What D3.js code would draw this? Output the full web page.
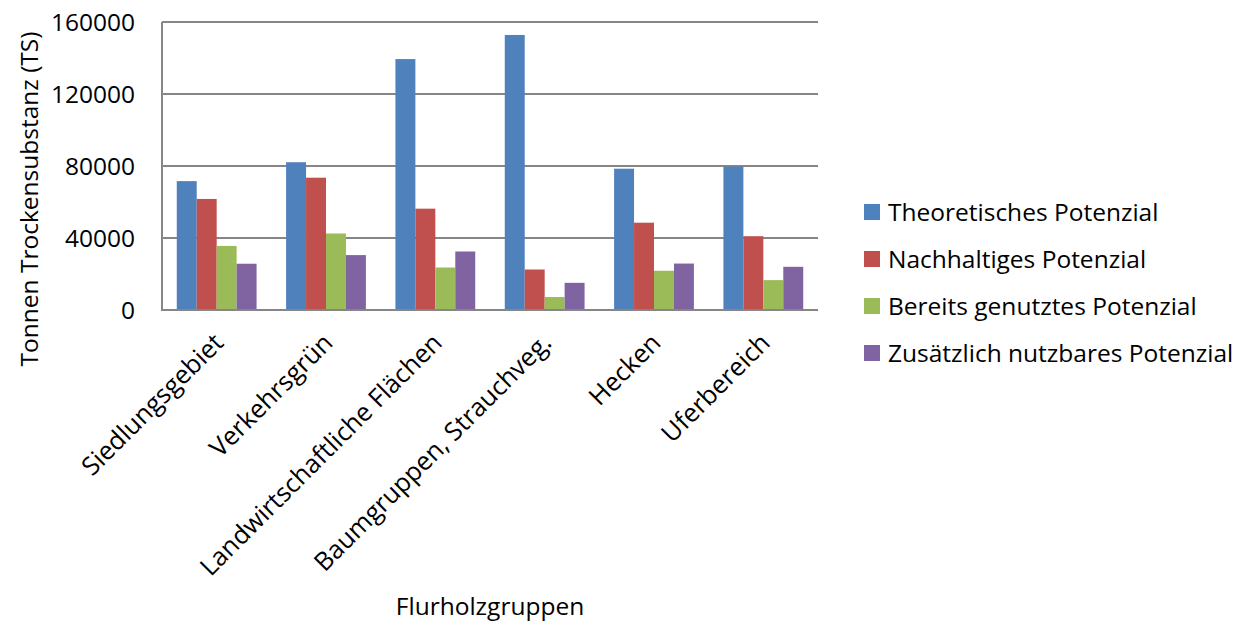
<!DOCTYPE html>
<html>
  <head>
    <meta charset="utf-8" />
    <script src="https://d3js.org/d3.v7.min.js"></script>
    <style>
        body {margin: 0; background: #fff;}
        text {font-family: "Open Sans", sans-serif; fill: #000;}
    </style>
  </head>
  <body>
    <svg id="viz"></svg>
    <script>
        var width = 1245
        var height = 623

        // categories on the x axis
        var groups = ["Siedlungsgebiet", "Verkehrsgrün", "Landwirtschaftliche Flächen",
                      "Baumgruppen, Strauchveg.", "Hecken", "Uferbereich"]
        // series names, in legend order
        var series = ["Theoretisches Potenzial", "Nachhaltiges Potenzial",
                      "Bereits genutztes Potenzial", "Zusätzlich nutzbares Potenzial"]
        var colors = ["#4F81BD", "#C0504D", "#9BBB59", "#8064A2"]

        // values per series, one per group (tonnes dry matter)
        var theoretisch = [71600, 82100, 139400, 152800, 78500, 79700]
        var nachhaltig  = [61700, 73500, 56300, 22500, 48500, 41000]
        var genutzt     = [35600, 42500, 23600, 7200, 21800, 16600]
        var zusaetzlich = [25700, 30500, 32500, 15100, 25800, 24000]
        var yTicks = [0, 40000, 80000, 120000, 160000]

        var values = [theoretisch, nachhaltig, genutzt, zusaetzlich]

        var svg = d3.select("#viz")
            .attr("width", width)
            .attr("height", height)

        // plot area edges
        var plotL = 162, plotR = 818, plotT = 22, plotB = 310

        var x0 = d3.scaleBand()
            .domain(groups)
            .range([plotL, plotR])
            .paddingInner(0.27)
            .paddingOuter(0.135)

        var x1 = d3.scaleBand()
            .domain(d3.range(series.length))
            .range([0, x0.bandwidth()])

        var y = d3.scaleLinear()
            .domain([0, 160000])
            .range([plotB, plotT])

        // gridlines
        svg.append("g").selectAll("line")
            .data(yTicks)
            .enter().append("line")
            .attr("x1", plotL)
            .attr("x2", plotR)
            .attr("y1", function(d) { return y(d) })
            .attr("y2", function(d) { return y(d) })
            .attr("stroke", "#868686")
            .attr("stroke-width", 2)

        // y axis line
        svg.append("line")
            .attr("x1", plotL).attr("x2", plotL)
            .attr("y1", plotT).attr("y2", plotB)
            .attr("stroke", "#868686")
            .attr("stroke-width", 2)

        // bars
        var barGroups = svg.append("g").selectAll("g")
            .data(groups)
            .enter().append("g")
            .attr("transform", function(d) { return "translate(" + x0(d) + ",0)" })

        barGroups.selectAll("rect")
            .data(function(d, i) {
                return values.map(function(s, k) { return {k: k, v: s[i]} })
            })
            .enter().append("rect")
            .attr("x", function(d) { return x1(d.k) })
            .attr("width", x1.bandwidth())
            .attr("y", function(d) { return y(d.v) })
            .attr("height", function(d) { return y(0) - y(d.v) })
            .attr("fill", function(d) { return colors[d.k] })

        // bottom axis line drawn over bars
        svg.append("line")
            .attr("x1", plotL - 1).attr("x2", plotR)
            .attr("y1", plotB).attr("y2", plotB)
            .attr("stroke", "#868686")
            .attr("stroke-width", 2)

        // y tick labels
        svg.append("g").selectAll("text")
            .data(yTicks)
            .enter().append("text")
            .attr("x", 135)
            .attr("y", function(d) { return y(d) })
            .attr("dy", "0.35em")
            .attr("text-anchor", "end")
            .style("font-size", "24.5px")
            .text(function(d) { return d })

        // x tick labels, rotated
        svg.append("g").selectAll("text")
            .data(groups)
            .enter().append("text")
            .attr("transform", function(d) {
                return "translate(" + (x0(d) + x0.bandwidth() / 2 + 2) + "," + 338 + ") rotate(-45)"
            })
            .attr("text-anchor", "end")
            .attr("dy", "0.35em")
            .style("font-size", "25.5px")
            .text(function(d) { return d })

        // axis titles
        svg.append("text")
            .attr("transform", "translate(29,199) rotate(-90)")
            .attr("text-anchor", "middle")
            .attr("dy", "0.35em")
            .style("font-size", "24.5px")
            .text("Tonnen Trockensubstanz (TS)")

        svg.append("text")
            .attr("x", 490)
            .attr("y", 606)
            .attr("text-anchor", "middle")
            .attr("dy", "0.35em")
            .style("font-size", "24.5px")
            .text("Flurholzgruppen")

        // legend
        var legend = svg.append("g").selectAll("g")
            .data(series)
            .enter().append("g")
            .attr("transform", function(d, i) { return "translate(864," + (212 + i * 47) + ")" })

        legend.append("rect")
            .attr("x", 0).attr("y", -8)
            .attr("width", 16).attr("height", 16)
            .attr("fill", function(d, i) { return colors[i] })

        legend.append("text")
            .attr("x", 24)
            .attr("dy", "0.35em")
            .style("font-size", "24.5px")
            .text(function(d) { return d })
    </script>
  </body>
</html>
